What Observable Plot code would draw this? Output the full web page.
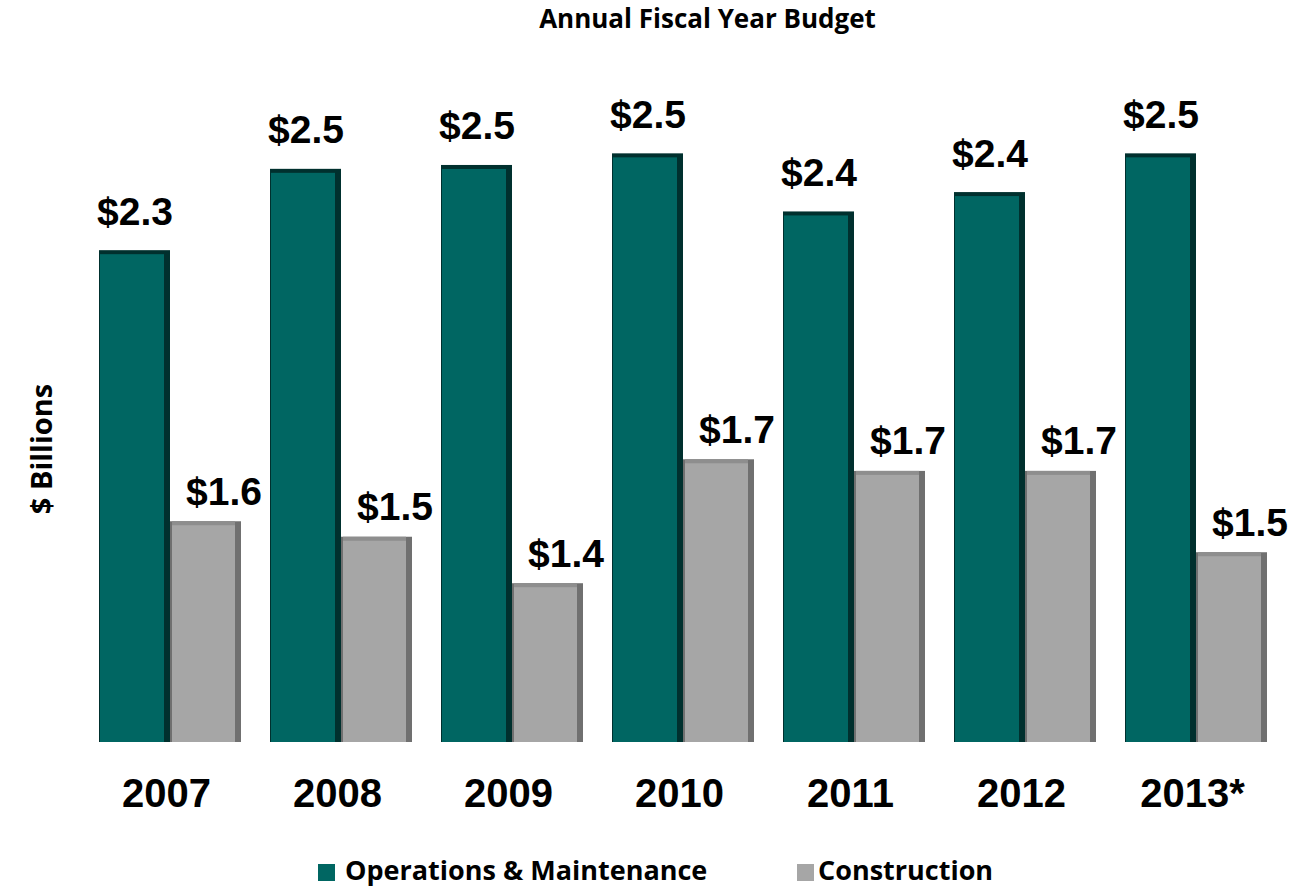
<!DOCTYPE html>
<html>
<head>
<meta charset="utf-8">
<script src="https://cdn.jsdelivr.net/npm/d3@7"></script>
<script src="https://cdn.jsdelivr.net/npm/@observablehq/plot@0.6"></script>
<style>
  html, body { margin: 0; padding: 0; background: #fff; }
  #wrap { position: relative; width: 1293px; height: 888px; overflow: hidden; font-family: "Open Sans", "Noto Sans", sans-serif; }
  #title { position: absolute; left: 0; width: 1293px; top: 5px; text-align: center; padding-left: 122px; box-sizing: border-box;
           font-size: 26px; line-height: 26px; font-weight: bold; color: #000; }
  #ylabel { position: absolute; left: 40px; top: 449px; transform: translate(-50%, -50%) rotate(-90deg);
            white-space: nowrap; font-size: 29px; line-height: 29px; font-weight: bold; color: #000; }
  #chart { position: absolute; left: 0; top: 55px; }
  #legend { position: absolute; left: 0; top: 856px; width: 1293px; height: 32px; }
  .item { position: absolute; top: 0; font-size: 27px; line-height: 27px; font-weight: bold; color: #000; white-space: nowrap; }
  .sw { position: absolute; width: 17px; height: 17px; top: 8px; }
  .lbl { position: absolute; top: 0; }
</style>
</head>
<body>
<div id="wrap">
  <div id="title"></div>
  <div id="ylabel"></div>
  <div id="chart"></div>
  <div id="legend"></div>
</div>
<script>
// ---- data ----
const titleText = "Annual Fiscal Year Budget";
const yLabel = "$ Billions";
const years = ["2007", "2008", "2009", "2010", "2011", "2012", "2013*"];
const series = ["Operations & Maintenance", "Construction"];
const omValues = [2.27, 2.48, 2.49, 2.52, 2.37, 2.42, 2.52];
const conValues = [1.57, 1.53, 1.41, 1.73, 1.70, 1.70, 1.49];
const yMin = 1.0;
const yMax = 2.65;

// ---- styles ----
const colors = {
  "Operations & Maintenance": { main: "#006662", side: "#00302e", top: "#00302e" },
  "Construction": { main: "#a6a6a6", side: "#707070", top: "#8e8e8e" }
};

const rows = [];
years.forEach((y, i) => {
  rows.push({ year: y, series: series[0], value: omValues[i] });
  rows.push({ year: y, series: series[1], value: conValues[i] });
});
const omRows = rows.filter(d => d.series === series[0]);
const conRows = rows.filter(d => d.series === series[1]);

const labelFont = { fontFamily: "Liberation Sans, Arial, sans-serif", fontSize: 39, fontWeight: "bold" };

const chart = Plot.plot({
  width: 1293,
  height: 790,
  marginLeft: 81,
  marginRight: 8,
  marginTop: 48,
  marginBottom: 103,
  style: { background: "transparent", overflow: "visible" },
  fx: { domain: years, paddingInner: 0.171, paddingOuter: 0.1, label: null, axis: null },
  x: { domain: series, padding: 0, axis: null },
  y: { domain: [yMin, yMax], axis: null },
  marks: [
    // O&M bars (dark side + main face)
    Plot.barY(omRows, { fx: "year", x: "series", y1: yMin, y2: "value", fill: colors[series[0]].side }),
    Plot.barY(omRows, { fx: "year", x: "series", y1: yMin, y2: "value", fill: colors[series[0]].main, insetRight: 6, insetTop: 4, insetLeft: 1 }),
    // Construction bars
    Plot.barY(conRows, { fx: "year", x: "series", y1: yMin, y2: "value", fill: colors[series[1]].side }),
    Plot.barY(conRows, { fx: "year", x: "series", y1: yMin, y2: "value", fill: colors[series[1]].top, insetRight: 6, insetLeft: 2 }),
    Plot.barY(conRows, { fx: "year", x: "series", y1: yMin, y2: "value", fill: colors[series[1]].main, insetRight: 6, insetLeft: 2, insetTop: 4 }),
    // value labels
    Plot.text(omRows, { fx: "year", x: "series", y: "value", text: d => "$" + d.value.toFixed(1),
      lineAnchor: "bottom", dy: -26, fill: "#000", ...labelFont }),
    Plot.text(conRows, { fx: "year", x: "series", y: "value", text: d => "$" + d.value.toFixed(1),
      lineAnchor: "bottom", dy: -17, dx: 18, fill: "#000", ...labelFont }),
    // year axis
    Plot.axisFx({ anchor: "bottom", tickSize: 0, tickPadding: 36, dx: -4, label: null, fill: "#000", ...labelFont, fontSize: 40 })
  ]
});
document.getElementById("chart").appendChild(chart);

document.getElementById("title").textContent = titleText;
document.getElementById("ylabel").textContent = yLabel;

// legend
const legend = document.getElementById("legend");
const legendPos = [{ sw: 318, lbl: 345 }, { sw: 797, lbl: 818 }];
series.forEach((s, i) => {
  const sw = document.createElement("div");
  sw.className = "sw";
  sw.style.left = legendPos[i].sw + "px";
  sw.style.background = colors[s].main;
  legend.appendChild(sw);
  const lb = document.createElement("div");
  lb.className = "item lbl";
  lb.style.left = legendPos[i].lbl + "px";
  lb.textContent = s;
  legend.appendChild(lb);
});
</script>
</body>
</html>
